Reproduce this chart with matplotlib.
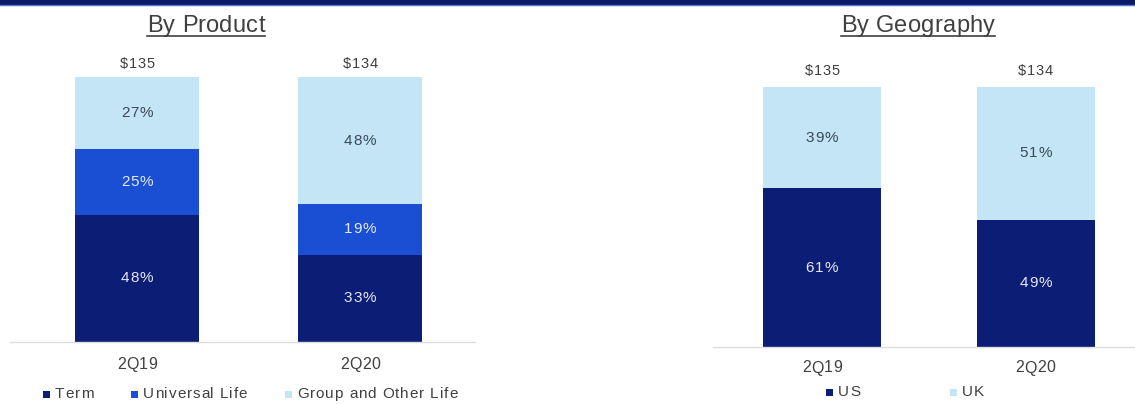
import matplotlib
matplotlib.use("Agg")
import matplotlib.pyplot as plt
from matplotlib.patches import Rectangle
from matplotlib.lines import Line2D
from matplotlib.font_manager import FontProperties

plt.rcParams['font.family'] = ['Liberation Sans', 'DejaVu Sans']

# Data
periods = ["2Q19", "2Q20"]
totals = ["$135", "$134"]
product_names = ["Term", "Universal Life", "Group and Other Life"]
term = [48, 33]
universal_life = [25, 19]
group_other = [27, 48]
geo_names = ["US", "UK"]
us = [61, 49]
uk = [39, 51]

NAVY = "#0b1d74"
MID = "#1b4fd3"
LIGHT = "#c3e5f5"
TXT = "#404040"
ON_DARK = "#e4e9f4"
ON_LIGHT = "#3c4a58"

W, H = 1135, 404
fig = plt.figure(figsize=(W / 100, H / 100), dpi=100)
fig.patch.set_facecolor("white")
renderer = fig.canvas.get_renderer()

# header band
fig.add_artist(Rectangle((0, 1 - 4.5 / H), 1, 4.5 / H, transform=fig.transFigure,
                         facecolor="#0a1a68", edgecolor="none"))
fig.add_artist(Line2D([0, 1], [1 - 5 / H] * 2, transform=fig.transFigure,
                      color="#5a74c4", lw=1))


def spaced_text(x, y, s, size, color, track=1.0, ha="center", va="center"):
    """Draw a string letter by letter with extra tracking (x, y in display px)."""
    fp = FontProperties(family=['Liberation Sans'], size=size)
    widths = [renderer.get_text_width_height_descent(ch, fp, ismath=False)[0]
              for ch in s]
    total = sum(widths) + track * (len(s) - 1)
    x0 = x - total / 2 if ha == "center" else x
    for ch, w in zip(s, widths):
        fig.text(x0 / W, y / H, ch, fontproperties=fp, color=color,
                 ha="left", va=va)
        x0 += w + track
    return total


def px_axes(x0, x1, ytop, ybot):
    return fig.add_axes([x0 / W, 1 - ybot / H, (x1 - x0) / W, (ybot - ytop) / H])


def style(ax):
    for s in ["top", "right", "left"]:
        ax.spines[s].set_visible(False)
    ax.spines["bottom"].set_color("#dcdcdc")
    ax.spines["bottom"].set_linewidth(1.0)
    ax.set_yticks([])
    ax.set_xticks([])
    ax.set_ylim(0, 100)
    ax.set_facecolor("none")


def stacked(ax, series, colors, textcolors, width, total_y, cat_y):
    x = list(range(len(periods)))
    bottoms = [0] * len(periods)
    for vals, c, tc in zip(series, colors, textcolors):
        ax.bar(x, vals, width, bottom=bottoms, color=c, edgecolor="none")
        for xi, b, v in zip(x, bottoms, vals):
            px, py = ax.transData.transform((xi, b + v / 2))
            spaced_text(px, py, f"{v}%", 11, tc, track=1.0)
        bottoms = [b + v for b, v in zip(bottoms, vals)]
    for xi, t, p in zip(x, totals, periods):
        px, _ = ax.transData.transform((xi, 0))
        spaced_text(px, H - total_y, t, 10.5, TXT, track=0.7)
        spaced_text(px, H - cat_y, p, 11.5, TXT, track=0.4)


def title(cx, s):
    w = spaced_text(cx, H - 32, s, 17, TXT, track=0.3, va="baseline")
    fig.add_artist(Line2D([(cx - w / 2) / W, (cx + w / 2) / W], [1 - 35.5 / H] * 2,
                          transform=fig.transFigure, color=TXT, lw=1.2))


def legend(entries, colors, starts, y):
    for name, c, x in zip(entries, colors, starts):
        fig.add_artist(Rectangle(((x - 12) / W, (H - y - 3.5) / H), 7 / W, 7 / H,
                                 transform=fig.transFigure, facecolor=c,
                                 edgecolor="none"))
        spaced_text(x, H - y, name, 11, TXT, track=0.9, ha="left")


# By Product
ax1 = px_axes(10, 475, 77, 342)
style(ax1)
ax1.set_xlim(-127 / 223, 1 + 115 / 223)
stacked(ax1, [term, universal_life, group_other], [NAVY, MID, LIGHT],
        [ON_DARK, ON_DARK, ON_LIGHT], 124 / 223, 64, 364.5)
title(206, "By Product")
legend(product_names, [NAVY, MID, LIGHT], [55, 143, 297], 394)

# By Geography
ax2 = px_axes(713, 1135, 87, 347)
style(ax2)
ax2.set_xlim(-109 / 213.5, 1 + 99.5 / 213.5)
stacked(ax2, [us, uk], [NAVY, LIGHT], [ON_DARK, ON_LIGHT], 118 / 213.5, 71, 368)
title(918, "By Geography")
legend(geo_names, [NAVY, LIGHT], [838, 962], 392)

fig.savefig("out.png", dpi=100, facecolor="white")
